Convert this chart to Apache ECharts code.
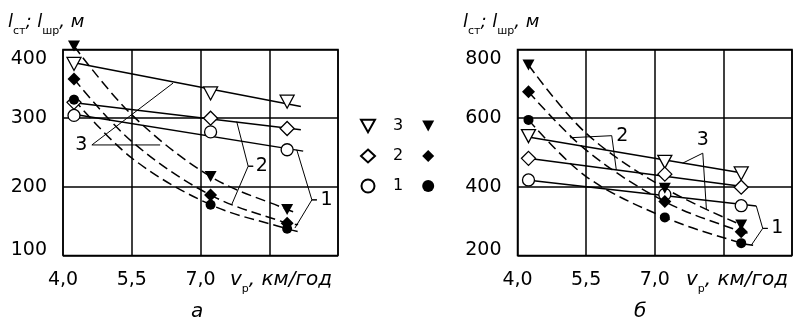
<!DOCTYPE html>
<html><head><meta charset="utf-8">
<script src="https://cdn.jsdelivr.net/npm/echarts@6/dist/echarts.min.js"></script>
<style>html,body{margin:0;padding:0;background:#fff}#c{width:795px;height:321px}</style>
</head><body><div id="c"></div>
<script>
// ---- axes ----
const xTicks = [4.0, 5.5, 7.0, 8.5, 10.0];
const xTickLabels = ['4,0', '5,5', '7,0', '', ''];
const yTicksA = [100, 200, 300, 400];
const yTickLabelsA = ['100', '200', '300', '400'];
const yTicksB = [200, 400, 600, 800];
const yTickLabelsB = ['200', '400', '600', '800'];

// speeds v_p (km/h) of the measured points
const speeds = [4.24, 7.22, 8.89];

// ---- panel а : measured points ----
const a_openTri = [379, 336, 324];
const a_openDia = [323, 300, 285];
const a_openCir = [304, 280, 254];
const a_fillTri = [405, 215, 167];
const a_fillDia = [357, 188, 147];
const a_fillCir = [327, 174, 139];
// solid trend lines [x, y]
const a_trendTri = [[4.30, 380], [9.19, 317]];
const a_trendDia = [[4.30, 322], [9.19, 283]];
const a_trendCir = [[4.30, 305], [9.24, 252]];
// dashed curves [x, y]
const a_curveTri = [[4.24, 405], [5.5, 305], [7.22, 215], [8.89, 167], [9.10, 162]];
const a_curveDia = [[4.24, 357], [5.5, 266], [7.22, 188], [8.89, 147], [9.13, 145]];
const a_curveCir = [[4.24, 327], [5.5, 242], [7.22, 174], [8.89, 139], [9.19, 134]];
// annotation leaders
const a_lead3 = [[6.40, 351], [4.63, 261], [6.12, 261]];
const a_lead2 = [[7.79, 295], [8.04, 230], [8.15, 230], [8.04, 230], [7.68, 174]];
const a_lead1 = [[9.10, 254], [9.43, 181], [9.54, 181], [9.43, 181], [9.06, 140]];

// ---- panel б ----
const b_openTri = [548, 473, 439];
const b_openDia = [483, 437, 399];
const b_openCir = [420, 378, 345];
const b_fillTri = [755, 396, 289];
const b_fillDia = [677, 357, 269];
const b_fillCir = [595, 311, 236];
const b_trendTri = [[4.30, 544], [8.85, 442]];
const b_trendDia = [[4.35, 481], [8.80, 403]];
const b_trendCir = [[4.35, 418], [9.22, 344]];
const b_curveTri = [[4.24, 755], [5.5, 556], [7.22, 396], [8.89, 289]];
const b_curveDia = [[4.24, 677], [5.5, 507], [7.22, 357], [8.89, 269], [9.05, 265]];
const b_curveCir = [[4.24, 595], [5.5, 430], [7.22, 311], [8.89, 236], [9.15, 230]];
const b_lead2 = [[5.15, 543], [6.06, 549], [6.16, 449]];
const b_lead3 = [[7.61, 469], [8.05, 498], [8.13, 333]];
const b_lead1 = [[9.22, 344], [9.36, 279], [9.47, 279], [9.36, 279], [9.11, 230]];

// ---- legend ----
const legendNumbers = ['3', '2', '1'];

const FONT = 'DejaVu Sans';
const TRI_DOWN = 'path://M0,0L10,0L5,9Z';
const BLACK = '#000';

function pts(arr) { return speeds.map((x, i) => [x, arr[i]]); }
function lab(ticks, labels, rich) {
  return v => {
    const i = ticks.findIndex(t => Math.abs(t - v) < 1e-6);
    if (i < 0) return '';
    if (rich && i === 0) return '{lo|' + labels[i] + '}';
    if (rich && i === ticks.length - 1) return '{hi|' + labels[i] + '}';
    return labels[i];
  };
}

function openSeries(name, symbol, size, data, g) {
  return { name, type: 'scatter', xAxisIndex: g, yAxisIndex: g, symbol, symbolSize: size, clip: false, z: 5,
    itemStyle: { color: '#fff', borderColor: BLACK, borderWidth: 1.3, opacity: 1 }, data: pts(data) };
}
function fillSeries(name, symbol, size, data, g) {
  return { name, type: 'scatter', xAxisIndex: g, yAxisIndex: g, symbol, symbolSize: size, clip: false, z: 6,
    itemStyle: { color: BLACK, opacity: 1 }, data: pts(data) };
}
function solid(data, g) {
  return { type: 'line', xAxisIndex: g, yAxisIndex: g, data, symbol: 'none', clip: false, z: 3,
    lineStyle: { color: BLACK, width: 1.5 } };
}
function dashed(data, g) {
  return { type: 'line', xAxisIndex: g, yAxisIndex: g, data, symbol: 'none', clip: false, z: 3,
    smooth: 0.35, lineStyle: { color: BLACK, width: 1.5, type: [10, 5] } };
}
function leader(data, g, labelIdx, text, pos, dist) {
  return { type: 'line', xAxisIndex: g, yAxisIndex: g, clip: false, z: 4,
    symbol: 'circle', symbolSize: 1, itemStyle: { color: 'rgba(0,0,0,0)' },
    lineStyle: { color: BLACK, width: 1 },
    data: data.map((p, i) => i === labelIdx ? { value: p, label: { show: true, formatter: text, position: pos, distance: dist,
      color: BLACK, fontFamily: FONT, fontSize: 19 } } : { value: p }) };
}

function xAxis(g) {
  return { type: 'value', gridIndex: g, min: 4, max: 10, interval: 1.5,
    axisLine: { show: false }, axisTick: { show: false },
    splitLine: { show: true, lineStyle: { color: BLACK, width: 1.5 } },
    axisLabel: { formatter: lab(xTicks, xTickLabels, false), color: BLACK, fontFamily: FONT, fontSize: 19, margin: 15 } };
}
function yAxis(g, min, max, step, ticks, labels) {
  return { type: 'value', gridIndex: g, min, max, interval: step,
    axisLine: { show: false }, axisTick: { show: false },
    splitLine: { show: true, lineStyle: { color: BLACK, width: 1.5 } },
    axisLabel: { formatter: lab(ticks, labels, true), color: BLACK, fontFamily: FONT, fontSize: 19, margin: 16,
      rich: {
        lo: { fontFamily: FONT, fontSize: 19, color: BLACK, padding: [0, 0, 11, 0] },
        hi: { fontFamily: FONT, fontSize: 19, color: BLACK, padding: [20, 0, 0, 0] }
      } } };
}

const richTitle = {
  i: { fontFamily: FONT, fontStyle: 'italic', fontSize: 18, color: BLACK, lineHeight: 22 },
  s: { fontFamily: FONT, fontSize: 11, color: BLACK, verticalAlign: 'bottom', lineHeight: 12, padding: [0, 0, -4, 0] }
};

function titleText(x) {
  return { type: 'text', left: x, top: 13, style: { text: '{i|l}{s|ст}{i|; l}{s|шр}{i|, м}', rich: richTitle } };
}
function vText(x) {
  return { type: 'text', left: x, top: 270, style: { text: '{i|v}{s|р}{i|, км/год}', rich: {
    i: { fontFamily: FONT, fontStyle: 'italic', fontSize: 20, color: BLACK, lineHeight: 22 },
    s: richTitle.s } } };
}
function panelLetter(x, t) {
  return { type: 'text', left: x, top: 302, style: { text: t, fontFamily: FONT, fontStyle: 'italic', fontSize: 20, fill: BLACK } };
}

const chart = echarts.init(document.getElementById('c'), null, { renderer: 'canvas' });
chart.setOption({
  animation: false,
  backgroundColor: '#fff',
  grid: [
    { left: 63, top: 49.5, width: 275, height: 206, show: true, borderColor: BLACK, borderWidth: 1.5, backgroundColor: 'transparent' },
    { left: 517.5, top: 49.5, width: 274.5, height: 206, show: true, borderColor: BLACK, borderWidth: 1.5, backgroundColor: 'transparent' }
  ],
  xAxis: [xAxis(0), xAxis(1)],
  yAxis: [yAxis(0, 100, 400, 100, yTicksA, yTickLabelsA), yAxis(1, 200, 800, 200, yTicksB, yTickLabelsB)],
  legend: [
    { orient: 'vertical', left: 355, top: 113, itemWidth: 14, itemHeight: 13, itemGap: 14,
      data: ['3o', '2o', '1o'], formatter: () => ' ', selectedMode: false,
      textStyle: { fontSize: 16, lineHeight: 16, fontFamily: FONT } },
    { orient: 'vertical', left: 388, top: 113, itemWidth: 12, itemHeight: 12, itemGap: 14, align: 'right',
      data: ['3f', '2f', '1f'], selectedMode: false,
      formatter: n => legendNumbers[['3f', '2f', '1f'].indexOf(n)],
      textStyle: { fontSize: 16, lineHeight: 16, fontFamily: FONT, color: BLACK, padding: [0, 14, 0, 0] } }
  ],
  graphic: [titleText(8), titleText(463), vText(230), vText(686), panelLetter(191, 'а'), panelLetter(634, 'б')],
  series: [
    solid(a_trendTri, 0), solid(a_trendDia, 0), solid(a_trendCir, 0),
    dashed(a_curveTri, 0), dashed(a_curveDia, 0), dashed(a_curveCir, 0),
    leader(a_lead3, 0, 1, '3', 'left', 4), leader(a_lead2, 0, 2, '2', 'right', 2), leader(a_lead1, 0, 2, '1', 'right', 3),
    openSeries('3o', TRI_DOWN, [14, 13], a_openTri, 0), openSeries('2o', 'diamond', 14, a_openDia, 0), openSeries('1o', 'circle', 12, a_openCir, 0),
    fillSeries('3f', TRI_DOWN, [12, 11], a_fillTri, 0), fillSeries('2f', 'diamond', 13, a_fillDia, 0), fillSeries('1f', 'circle', 10, a_fillCir, 0),

    solid(b_trendTri, 1), solid(b_trendDia, 1), solid(b_trendCir, 1),
    dashed(b_curveTri, 1), dashed(b_curveDia, 1), dashed(b_curveCir, 1),
    leader(b_lead2, 1, 1, '2', 'right', 4), leader(b_lead3, 1, 1, '3', 'top', 3), leader(b_lead1, 1, 2, '1', 'right', 3),
    openSeries('3o', TRI_DOWN, [14, 13], b_openTri, 1), openSeries('2o', 'diamond', 14, b_openDia, 1), openSeries('1o', 'circle', 12, b_openCir, 1),
    fillSeries('3f', TRI_DOWN, [12, 11], b_fillTri, 1), fillSeries('2f', 'diamond', 13, b_fillDia, 1), fillSeries('1f', 'circle', 10, b_fillCir, 1)
  ]
});
</script></body></html>
